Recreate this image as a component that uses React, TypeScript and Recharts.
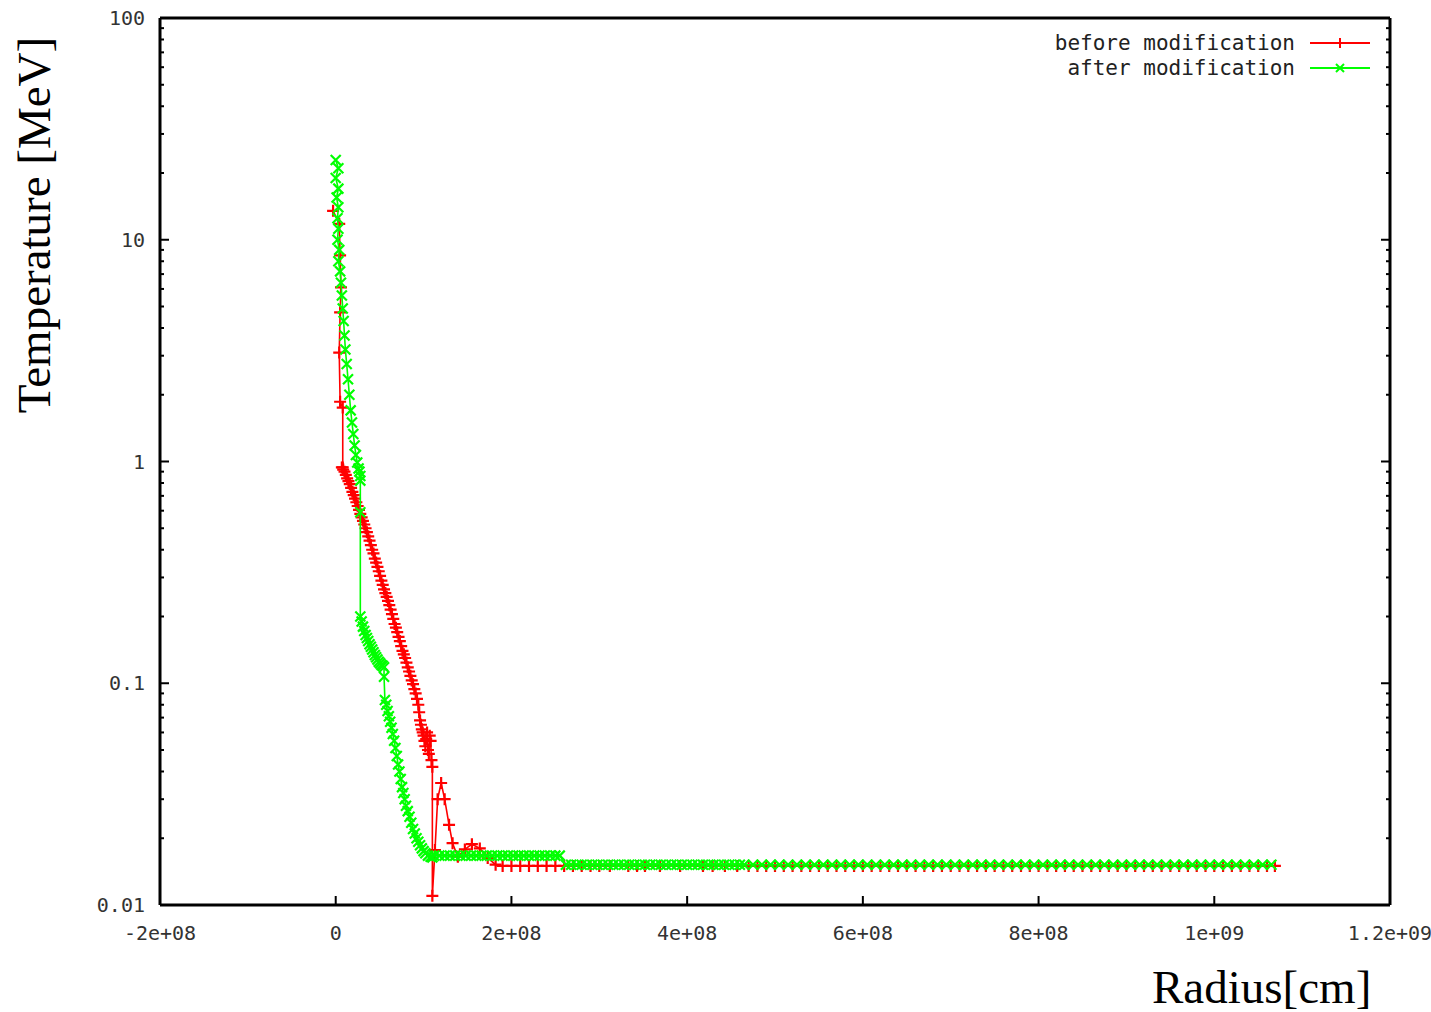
import React from "react";
import { ScatterChart, Scatter, XAxis, YAxis } from "recharts";

// Radius in units of 1e8 cm, temperature in MeV
const xTicks = [-2, 0, 2, 4, 6, 8, 10, 12];
const xTickLabels = ["-2e+08", "0", "2e+08", "4e+08", "6e+08", "8e+08", "1e+09", "1.2e+09"];
const yTicks = [0.01, 0.1, 1, 10, 100];
const yTickLabels = ["0.01", "0.1", "1", "10", "100"];
const yMinorTicks = [
  0.02, 0.03, 0.04, 0.05, 0.06, 0.07, 0.08, 0.09,
  0.2, 0.3, 0.4, 0.5, 0.6, 0.7, 0.8, 0.9,
  2, 3, 4, 5, 6, 7, 8, 9,
  20, 30, 40, 50, 60, 70, 80, 90,
];

// "before modification"
const beforeRadius = [
  -0.03, 0.04, 0.05, 0.06, 0.05, 0.04, 0.05, 0.08, 0.08,
  0.07, 0.085, 0.1, 0.115, 0.13, 0.145, 0.16, 0.175, 0.19, 0.205, 0.22, 0.235, 0.25,
  0.265, 0.28, 0.295, 0.31, 0.325, 0.34, 0.355, 0.37, 0.385, 0.4, 0.415, 0.43,
  0.445, 0.46, 0.475, 0.49, 0.505, 0.52, 0.535, 0.55, 0.565, 0.58, 0.595, 0.61,
  0.625, 0.64, 0.655, 0.67, 0.685, 0.7, 0.715, 0.73, 0.745, 0.76, 0.775, 0.79,
  0.805, 0.82, 0.835, 0.85, 0.865, 0.88, 0.895, 0.91, 0.925, 0.94, 0.95, 0.96,
  0.97, 0.98, 0.99, 1.0, 1.01, 1.02, 1.03, 1.04, 1.05, 1.06, 1.07, 1.08, 1.09, 1.1, 1.1,
  1.13, 1.16, 1.2, 1.24, 1.29, 1.33, 1.39, 1.47, 1.55, 1.64, 1.73, 1.82,
];
const beforeTemp = [
  13.5, 11.8, 8.5, 6.1, 4.7, 3.1, 1.86, 1.75, 0.94,
  0.94, 0.92, 0.9, 0.87, 0.84, 0.815, 0.79, 0.76, 0.73, 0.705, 0.68, 0.655, 0.63,
  0.605, 0.58, 0.56, 0.54, 0.52, 0.5, 0.48, 0.46, 0.44, 0.42, 0.4, 0.385,
  0.365, 0.35, 0.335, 0.32, 0.305, 0.29, 0.278, 0.265, 0.255, 0.245, 0.235, 0.225,
  0.215, 0.205, 0.195, 0.185, 0.178, 0.17, 0.162, 0.155, 0.147, 0.14, 0.135, 0.13,
  0.124, 0.118, 0.113, 0.108, 0.103, 0.099, 0.094, 0.09, 0.085, 0.08, 0.074, 0.068,
  0.065, 0.062, 0.06, 0.058, 0.055, 0.052, 0.056, 0.06, 0.05, 0.048, 0.058, 0.055, 0.045, 0.042, 0.011,
  0.0177, 0.03, 0.0355, 0.03, 0.023, 0.019, 0.0165, 0.0178, 0.0188, 0.018, 0.0163, 0.0152,
];
const beforeTailRadius = [
  1.9, 2.0, 2.1, 2.2, 2.3, 2.4, 2.5, 2.6, 2.7, 2.8, 2.9, 3.0, 3.12, 3.33, 3.43,
  3.52, 3.69, 3.92, 4.18, 4.29, 4.43, 4.57, 4.7, 4.8, 4.9, 5.0, 5.1, 5.2, 5.3,
  5.4, 5.5, 5.6, 5.7, 5.8, 5.9, 6.0, 6.1, 6.2, 6.3, 6.4, 6.5, 6.6, 6.7, 6.8,
  6.9, 7.0, 7.1, 7.2, 7.3, 7.4, 7.5, 7.6, 7.7, 7.8, 7.9, 8.0, 8.1, 8.2, 8.3,
  8.4, 8.5, 8.6, 8.7, 8.8, 8.9, 9.0, 9.1, 9.2, 9.3, 9.4, 9.5, 9.6, 9.7, 9.8,
  9.9, 10.0, 10.1, 10.2, 10.3, 10.4, 10.5, 10.6, 10.69,
];
const beforeTailTemp = 0.015;

// "after modification"
const afterRadius = [
  0.0, 0.03, 0.0, 0.03, 0.01, 0.03, 0.02, 0.03, 0.02, 0.04, 0.03, 0.05, 0.06, 0.07,
  0.08, 0.09, 0.1, 0.11, 0.125, 0.14, 0.155, 0.17, 0.185, 0.2, 0.215, 0.23, 0.245,
  0.26, 0.27, 0.28, 0.28, 0.28,
  0.28, 0.295, 0.31, 0.325, 0.34, 0.355, 0.37, 0.385, 0.4, 0.415, 0.43, 0.445,
  0.46, 0.475, 0.49, 0.505, 0.52, 0.535, 0.55, 0.55, 0.56, 0.575, 0.59, 0.605,
  0.62, 0.635, 0.65, 0.665, 0.68, 0.695, 0.71, 0.725, 0.74, 0.755, 0.77, 0.785,
  0.8, 0.82, 0.84, 0.86, 0.88, 0.9, 0.92, 0.94, 0.96, 0.98, 1.0, 1.02, 1.05, 1.08, 1.1,
];
const afterTemp = [
  22.9, 21, 19, 17, 15.5, 14, 12.5, 11.2, 10, 9, 8, 7.2, 6.4, 5.6,
  4.9, 4.3, 3.7, 3.2, 2.75, 2.35, 2.0, 1.7, 1.5, 1.33, 1.18, 1.07, 0.99,
  0.93, 0.9, 0.86, 0.82, 0.59,
  0.2, 0.19, 0.18, 0.172, 0.165, 0.16, 0.155, 0.15, 0.146, 0.142, 0.138, 0.134,
  0.131, 0.128, 0.125, 0.123, 0.121, 0.12, 0.118, 0.107, 0.084, 0.08, 0.075, 0.071,
  0.067, 0.063, 0.059, 0.055, 0.051, 0.047, 0.043, 0.04, 0.037, 0.034, 0.032, 0.03,
  0.028, 0.0265, 0.025, 0.0235, 0.022, 0.021, 0.02, 0.0193, 0.0186, 0.018, 0.0175, 0.0171, 0.0167, 0.0165, 0.0164,
];
const afterShelfRadius = [
  1.12, 1.18, 1.24, 1.3, 1.36, 1.42, 1.48, 1.54, 1.6, 1.66, 1.72, 1.78, 1.84,
  1.9, 1.96, 2.02, 2.08, 2.14, 2.2, 2.26, 2.32, 2.38, 2.44, 2.5, 2.55,
];
const afterShelfTemp = 0.0167;
const afterTailRadius = [
  2.62, 2.68, 2.74, 2.8, 2.86, 2.92, 2.98, 3.04, 3.1, 3.16, 3.22, 3.28, 3.34,
  3.4, 3.46, 3.52, 3.58, 3.64, 3.7, 3.76, 3.82, 3.88, 3.94, 4.0, 4.06, 4.12,
  4.18, 4.24, 4.3, 4.36, 4.42, 4.48, 4.54, 4.6, 4.65, 4.75, 4.85, 4.95, 5.05,
  5.15, 5.25, 5.35, 5.45, 5.55, 5.65, 5.75, 5.85, 5.95, 6.05, 6.15, 6.25, 6.35,
  6.45, 6.55, 6.65, 6.75, 6.85, 6.95, 7.05, 7.15, 7.25, 7.35, 7.45, 7.55, 7.65,
  7.75, 7.85, 7.95, 8.05, 8.15, 8.25, 8.35, 8.45, 8.55, 8.65, 8.75, 8.85, 8.95,
  9.05, 9.15, 9.25, 9.35, 9.45, 9.55, 9.65, 9.75, 9.85, 9.95, 10.05, 10.15,
  10.25, 10.35, 10.45, 10.55, 10.65,
];
const afterTailTemp = 0.0152;

const RED = "#ff0000";
const GREEN = "#00ff00";
const MONO = "'DejaVu Sans Mono', monospace";
const SERIF = "'Liberation Serif', 'Times New Roman', serif";

const beforeData = beforeRadius
  .map((r, i) => ({ r, t: beforeTemp[i] }))
  .concat(beforeTailRadius.map((r) => ({ r, t: beforeTailTemp })));

const afterData = afterRadius
  .map((r, i) => ({ r, t: afterTemp[i] }))
  .concat(afterShelfRadius.map((r) => ({ r, t: afterShelfTemp })))
  .concat(afterTailRadius.map((r) => ({ r, t: afterTailTemp })));

const majorIndex = (v: number) => yTicks.findIndex((t) => Math.abs(t - v) < t * 1e-6);

function PlusMark(props: any) {
  const { cx, cy } = props;
  if (cx == null || cy == null) return null;
  return (
    <path
      d={`M${cx - 6},${cy}H${cx + 6}M${cx},${cy - 6}V${cy + 6}`}
      stroke={RED}
      strokeWidth={2.2}
      fill="none"
    />
  );
}

function CrossMark(props: any) {
  const { cx, cy } = props;
  if (cx == null || cy == null) return null;
  return (
    <path
      d={`M${cx - 5},${cy - 5}L${cx + 5},${cy + 5}M${cx - 5},${cy + 5}L${cx + 5},${cy - 5}`}
      stroke={GREEN}
      strokeWidth={2.2}
      fill="none"
    />
  );
}

function LeftTick(props: any) {
  const { x, y, payload } = props;
  const idx = majorIndex(payload.value);
  const major = idx >= 0;
  return (
    <g>
      <line x1={x} x2={x + (major ? 9 : 4)} y1={y} y2={y} stroke="#000" strokeWidth={2} />
      {major && (
        <text x={x - 15} y={y} dy="0.35em" textAnchor="end" fontFamily={MONO} fontSize={20} fill="#333">
          {yTickLabels[idx]}
        </text>
      )}
    </g>
  );
}

function RightTick(props: any) {
  const { x, y, payload } = props;
  const major = majorIndex(payload.value) >= 0;
  return <line x1={x} x2={x - (major ? 9 : 4)} y1={y} y2={y} stroke="#000" strokeWidth={2} />;
}

function BottomTick(props: any) {
  const { x, y, payload } = props;
  const idx = xTicks.indexOf(payload.value);
  return (
    <g>
      <line x1={x} x2={x} y1={y} y2={y - 9} stroke="#000" strokeWidth={2} />
      <text x={x} y={y + 28} dy="0.35em" textAnchor="middle" fontFamily={MONO} fontSize={20} fill="#333">
        {xTickLabels[idx]}
      </text>
    </g>
  );
}

function TopTick(props: any) {
  const { x, y } = props;
  return <line x1={x} x2={x} y1={y} y2={y + 9} stroke="#000" strokeWidth={2} />;
}

function LegendBox() {
  const rows = [
    { label: "before modification", color: RED, mark: "plus" },
    { label: "after modification", color: GREEN, mark: "cross" },
  ];
  return (
    <div style={{ position: "absolute", top: 30, left: 1000, width: 370 }}>
      {rows.map((row) => (
        <div
          key={row.label}
          style={{ display: "flex", justifyContent: "flex-end", alignItems: "center", height: 25 }}
        >
          <span style={{ fontFamily: MONO, fontSize: 21, color: "#222", whiteSpace: "pre" }}>{row.label}</span>
          <svg width={75} height={20} style={{ display: "block" }}>
            <line x1={15} x2={75} y1={10} y2={10} stroke={row.color} strokeWidth={2} />
            {row.mark === "plus" ? (
              <path d="M40,10H50M45,5V15" stroke={row.color} strokeWidth={2} />
            ) : (
              <path d="M41,6L49,14M41,14L49,6" stroke={row.color} strokeWidth={2} />
            )}
          </svg>
        </div>
      ))}
    </div>
  );
}

export default function App() {
  return (
    <div style={{ position: "absolute", left: 0, top: 0, width: 1431, height: 1012, background: "#fff" }}>
      <ScatterChart width={1431} height={1012} margin={{ top: 0, right: 0, bottom: 0, left: 0 }}>
        <XAxis
          xAxisId="b"
          dataKey="r"
          type="number"
          domain={[-2, 12]}
          allowDataOverflow
          ticks={xTicks}
          interval={0}
          height={107}
          tickSize={0}
          tickMargin={0}
          tickLine={false}
          axisLine={{ stroke: "#000", strokeWidth: 3 }}
          tick={(p: any) => <BottomTick {...p} />}
          label={{
            content: () => (
              <text x={1152} y={1003} fontFamily={SERIF} fontSize={47} fill="#000">
                Radius[cm]
              </text>
            ),
          }}
        />
        <XAxis
          xAxisId="t"
          orientation="top"
          type="number"
          domain={[-2, 12]}
          allowDataOverflow
          ticks={xTicks}
          interval={0}
          height={18}
          tickSize={0}
          tickMargin={0}
          tickLine={false}
          axisLine={{ stroke: "#000", strokeWidth: 3 }}
          tick={(p: any) => <TopTick {...p} />}
        />
        <YAxis
          yAxisId="l"
          dataKey="t"
          type="number"
          scale="log"
          domain={[0.01, 100]}
          allowDataOverflow
          ticks={[...yTicks, ...yMinorTicks]}
          interval={0}
          width={160}
          tickSize={0}
          tickMargin={0}
          tickLine={false}
          axisLine={{ stroke: "#000", strokeWidth: 3 }}
          tick={(p: any) => <LeftTick {...p} />}
          label={{
            content: () => (
              <text
                transform="translate(50,225) rotate(-90)"
                textAnchor="middle"
                fontFamily={SERIF}
                fontSize={47}
                fill="#000"
              >
                Temperature [MeV]
              </text>
            ),
          }}
        />
        <YAxis
          yAxisId="r"
          orientation="right"
          type="number"
          scale="log"
          domain={[0.01, 100]}
          allowDataOverflow
          ticks={[...yTicks, ...yMinorTicks]}
          interval={0}
          width={41}
          tickSize={0}
          tickMargin={0}
          tickLine={false}
          axisLine={{ stroke: "#000", strokeWidth: 3 }}
          tick={(p: any) => <RightTick {...p} />}
        />
        <Scatter
          name="before modification"
          xAxisId="b"
          yAxisId="l"
          data={beforeData}
          line={{ stroke: RED, strokeWidth: 1.6 }}
          shape={(p: any) => <PlusMark {...p} />}
          isAnimationActive={false}
        />
        <Scatter
          name="after modification"
          xAxisId="b"
          yAxisId="l"
          data={afterData}
          line={{ stroke: GREEN, strokeWidth: 1.6 }}
          shape={(p: any) => <CrossMark {...p} />}
          isAnimationActive={false}
        />
      </ScatterChart>
      <LegendBox />
    </div>
  );
}
